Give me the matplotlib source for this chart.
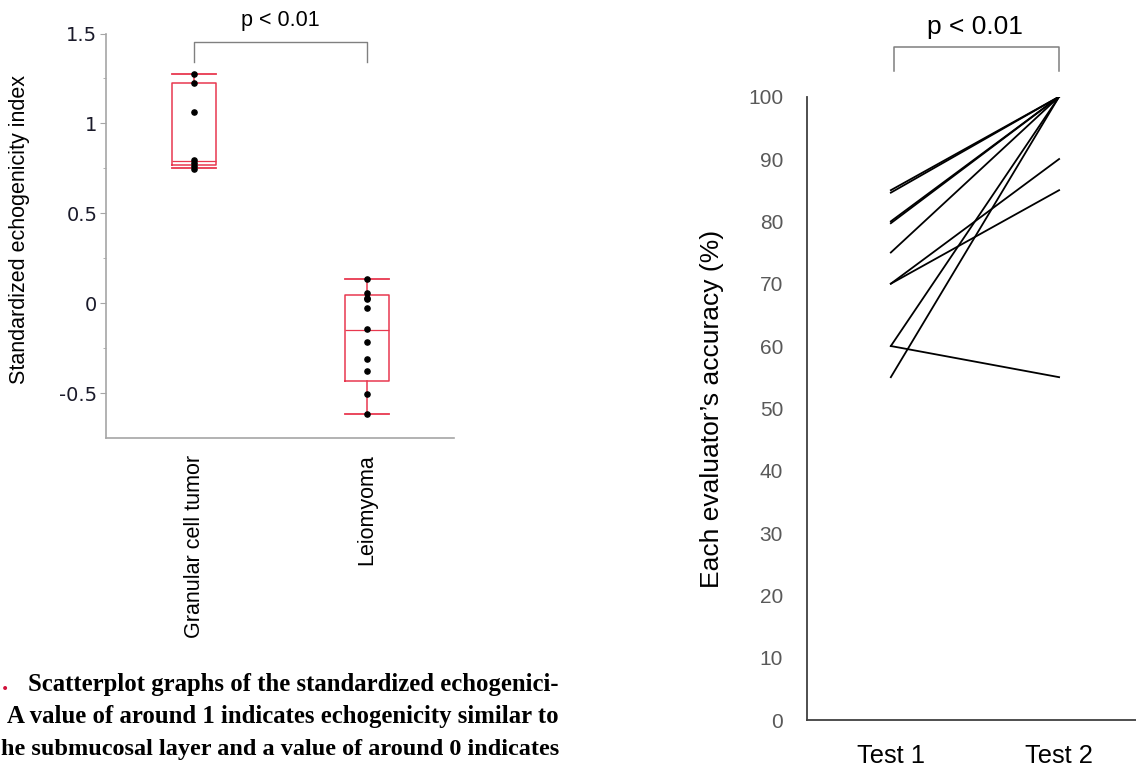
import numpy as np
import matplotlib
matplotlib.use('Agg')
import matplotlib.pyplot as plt

# left panel: standardized echogenicity index
groups = ['Granular cell tumor', 'Leiomyoma']
gct = [1.272, 1.222, 1.062, 0.794, 0.777, 0.762, 0.748]
leio = [0.136, 0.054, 0.030, 0.022, -0.028, -0.146, -0.215, -0.310, -0.375, -0.503, -0.615]
box_whislo = [0.752, -0.615]
box_q1 = [0.770, -0.433]
box_med = [0.790, -0.147]
box_q3 = [1.222, 0.046]
box_whishi = [1.272, 0.136]
left_yticks = [-0.5, 0, 0.5, 1, 1.5]
left_yticklabels = ['-0.5', '0', '0.5', '1', '1.5']

# right panel: each evaluator's accuracy
tests = ['Test 1', 'Test 2']
test1 = [85, 84.6, 80, 79.7, 75, 70, 70, 60, 60, 55]
test2 = [100, 100, 100, 100, 100, 90, 85, 100, 55, 100]
right_yticks = [0, 10, 20, 30, 40, 50, 60, 70, 80, 90, 100]

pval = 'p < 0.01'
caption = ['Scatterplot graphs of the standardized echogenici-',
           'A value of around 1 indicates echogenicity similar to',
           'he submucosal layer and a value of around 0 indicates']

W, H = 1136, 766
fig = plt.figure(figsize=(W/100, H/100), dpi=100)
sans = 'Liberation Sans'
red = '#e8384f'

# ---------- left ----------
ax1 = fig.add_axes([105.8/W, 1-438/H, 347.7/W, 404.5/H])
ax1.set_xlim(0.49, 2.5)
ax1.set_ylim(-0.75, 1.5)
stats = []
for i in range(2):
    stats.append(dict(whislo=box_whislo[i], q1=box_q1[i], med=box_med[i],
                      q3=box_q3[i], whishi=box_whishi[i], fliers=[]))
ax1.bxp(stats, positions=[1, 2], widths=0.25, capwidths=0.25, showfliers=False,
        boxprops=dict(color=red, lw=1.1), whiskerprops=dict(color=red, lw=1.1),
        capprops=dict(color=red, lw=1.3), medianprops=dict(color=red, lw=0.9))
ax1.scatter([1]*len(gct), gct, s=14, color='black', zorder=5)
ax1.scatter([2]*len(leio), leio, s=14, color='black', zorder=5)
for s in ['top', 'right']:
    ax1.spines[s].set_visible(False)
ax1.spines['left'].set_color('#a6a6a6')
ax1.spines['bottom'].set_color('#a6a6a6')
ax1.spines['left'].set_linewidth(1.2)
ax1.spines['bottom'].set_linewidth(1.2)
ax1.set_yticks(left_yticks)
ax1.set_yticklabels(left_yticklabels, fontsize=14, family='DejaVu Sans', color='#1a1a2a')
ax1.set_yticks([-0.25, 0.25, 0.75, 1.25], minor=True)
ax1.tick_params(axis='y', which='major', length=4, color='#a6a6a6', pad=2)
ax1.tick_params(axis='y', which='minor', length=2, color='#a6a6a6')
ax1.set_xticks([1, 2])
ax1.set_xticklabels(groups, rotation=90, fontsize=15.5, family=sans, va='top')
ax1.tick_params(axis='x', length=0, pad=12)
ax1.plot([1, 1, 2, 2], [1.341, 1.453, 1.453, 1.341], color='#808080', lw=1, clip_on=False)
ax1.text(1.5, 1.575, pval, ha='center', va='center', fontsize=15.5, family=sans, clip_on=False)
fig.text(20/W, 1-230/H, 'Standardized echogenicity index', rotation=90, ha='center',
         va='center', fontsize=15.5, family=sans)

# caption (cropped)
fig.text(2/W, 1-684/H, '.', color='#d0103a', fontsize=18, family='Liberation Serif',
         weight='bold', ha='left', va='center')
for k, line in enumerate(caption[:2]):
    fig.text(559/W, 1-(684+33*k)/H, line, fontsize=17.8, family='Liberation Serif',
             weight='bold', ha='right', va='center')
fig.text(1/W, 1-750/H, caption[2], fontsize=17.5, family='Liberation Serif',
         weight='bold', ha='left', va='center')

# ---------- right ----------
ax2 = fig.add_axes([806.7/W, 1-720/H, 329.3/W, 623.3/H])
ax2.set_xlim(0.5, 2.457)
ax2.set_ylim(0, 100)
for a, b in zip(test1, test2):
    ax2.plot([1, 2], [a, b], color='black', lw=1.3)
for s in ['top', 'right']:
    ax2.spines[s].set_visible(False)
ax2.spines['left'].set_color('#404040')
ax2.spines['bottom'].set_color('#404040')
ax2.spines['left'].set_linewidth(1.3)
ax2.spines['bottom'].set_linewidth(1.3)
ax2.set_yticks(right_yticks)
ax2.set_yticklabels([str(v) for v in right_yticks], fontsize=15, family=sans, color='#595959')
ax2.tick_params(axis='y', length=0, pad=17)
ax2.set_xticks([1, 2])
ax2.set_xticklabels(tests, fontsize=18.4, family=sans)
ax2.tick_params(axis='x', length=0, pad=17)
ax2.plot([1.02, 1.02, 2, 2], [104.1, 108, 108, 104.1], color='#7f7f7f', lw=1.1, clip_on=False)
ax2.text(1.5, 111.2, pval, ha='center', va='center', fontsize=19, family=sans, clip_on=False)
fig.text(712/W, 1-409/H, 'Each evaluator\u2019s accuracy (%)', rotation=90, ha='center',
         va='center', fontsize=19, family=sans)

fig.savefig('out.png', dpi=100)
